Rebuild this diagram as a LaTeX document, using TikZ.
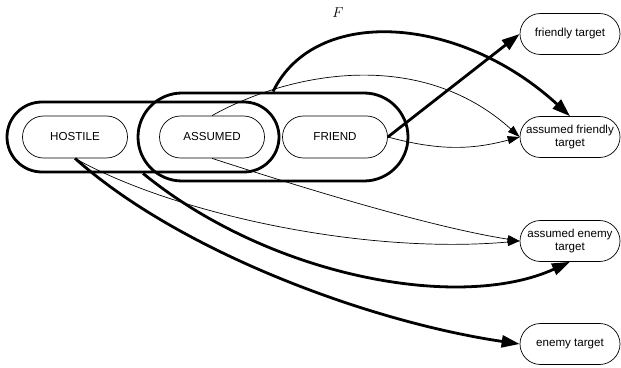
\documentclass[tikz,border=0pt]{standalone}
\usepackage{fontspec}
\setsansfont{Liberation Sans}
\usetikzlibrary{arrows.meta,shapes.misc}

\begin{document}
\begin{tikzpicture}[
        x=1pt, y=1pt,
        % Style for the state nodes
        state style/.style = {
            draw,
            rounded rectangle,
            line width=0.7pt,
            align=center,
            inner sep=0pt,
            font=\sffamily\fontsize{11.6}{13.5}\selectfont,
            minimum width=105pt,
            minimum height=42pt
        },
        % Style for the target nodes
        target style/.style = {
            state style,
            minimum width=100pt,
            minimum height=41pt
        },
        % Style for the grouping outlines
        group style/.style = {
            draw,
            rounded rectangle,
            line width=2.8pt,
            inner sep=0pt
        },
        % Arrow styles
        thin arrow/.style = {
            -{Triangle[length=12pt,width=8pt]},
            line width=0.7pt
        },
        thick arrow/.style = {
            -{Triangle[length=18pt,width=12pt]},
            line width=2.8pt
        }
    ]
    \useasboundingbox (0,0) rectangle (621,367);

    % State nodes
    \node[state style] (hostile) at (75,230) {HOSTILE};
    \node[state style] (assumed) at (212,230) {ASSUMED};
    \node[state style] (friend)  at (335,230) {FRIEND};

    % Groups
    \node[group style, minimum width=272pt, minimum height=70pt] (hostileAssumed) at (143,230) {};
    \node[group style, minimum width=270pt, minimum height=88pt] (assumedFriend) at (273,230) {};

    % Targets
    \node[target style] (friendlyTarget)        at (570,333) {friendly target};
    \node[target style] (assumedFriendlyTarget) at (570,230) {assumed friendly\\target};
    \node[target style] (assumedEnemyTarget)    at (570,126) {assumed enemy\\target};
    \node[target style] (enemyTarget)           at (570,23)  {enemy target};

    \node[font=\fontsize{14}{16}\selectfont] (fLabel) at (338,354) {$F$};

    % Thick connectors
    \draw[thick arrow] (friend.east) -- (friendlyTarget.west);
    \draw[thick arrow] (assumedFriend.north) .. controls (315,362) and (460,352) .. (assumedFriendlyTarget.north);
    \draw[thick arrow] (hostileAssumed.south) .. controls (270,90) and (460,55) .. (assumedEnemyTarget.south);
    \draw[thick arrow] (hostile.south) .. controls (180,115) and (370,45) .. (enemyTarget.west);

    % Thin connectors
    \draw[thin arrow] (assumed.north) .. controls (290,295) and (420,320) .. (assumedFriendlyTarget.west);
    \draw[thin arrow] (friend.east) to[bend right=15] (assumedFriendlyTarget.west);
    \draw[thin arrow] (hostile.south) .. controls (170,155) and (360,112) .. (assumedEnemyTarget.west);
    \draw[thin arrow] (assumed.south) .. controls (300,180) and (430,140) .. (assumedEnemyTarget.west);
\end{tikzpicture}
\end{document}
